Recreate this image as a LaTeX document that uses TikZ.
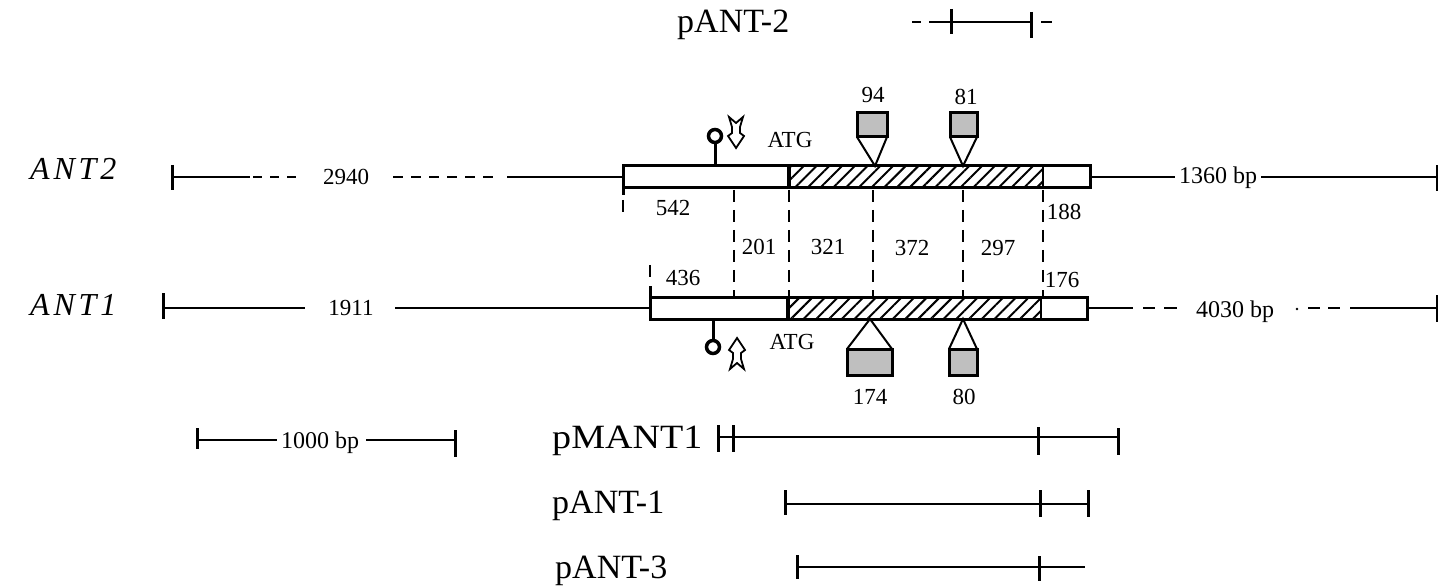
\documentclass[tikz,border=0pt]{standalone}
\usepackage{fontspec}
\setmainfont{Liberation Serif}
\newfontfamily\antfont[LetterSpace=12]{Liberation Serif}
\usetikzlibrary{patterns.meta}
\tikzset{
  gene/.style={line width=2pt},
  endtick/.style={line width=3pt},
  boxline/.style={line width=3pt},
  vdash/.style={line width=2.6pt, dash pattern=on 12pt off 8pt},
  gdash/.style={line width=2pt, dash pattern=on 10pt off 8pt},
  num/.style={font=\fontsize{23}{23}\selectfont, inner sep=0pt},
  bp/.style={font=\fontsize{24}{24}\selectfont, inner sep=0pt, anchor=base},
  clone/.style={font=\fontsize{34}{34}\selectfont, inner sep=0pt, anchor=base west},
  genename/.style={font=\antfont\itshape\fontsize{32}{32}\selectfont, inner sep=0pt, anchor=base west},
  stipple/.style={line width=3pt, fill=gray!50},
  hatch/.style={pattern={Lines[angle=45,distance=9pt,line width=2pt]}},
  lolli/.style={line width=3.5pt, fill=white},
  pics/tss/.style={code={
    \draw[line width=1.8pt, fill=white, line join=miter]
      (-7,0) -- (0,6) -- (7,0) -- (4,10) -- (4,16) -- (8,19) -- (0,31)
      -- (-8,19) -- (-4,16) -- (-4,10) -- cycle;}}
}
\begin{document}
\begin{tikzpicture}[x=1pt,y=-1pt]
\useasboundingbox (0,0) rectangle (1438,588);

% ---------------- pANT-2 -----------------
\node[clone] (pant2) at (677,33) {pANT-2};
\coordinate (p2a) at (912,22);
\coordinate (p2b) at (951,22);
\coordinate (p2c) at (1031,22);
\coordinate (p2d) at (1052,22);
\draw[gene] (p2a) -- ++(9,0);
\draw[gene] (929,22) -- (p2b);
\draw[gene] (p2b) -- (p2c);
\draw[gene] (1041,22) -- (p2d);
\draw[endtick] (951,9) -- (951,34);
\draw[endtick] (1031,12) -- (1031,38);

% ---------------- ANT2 row (y=177) -----------------
\node[genename] (ant2) at (30,180) {ANT2};
\coordinate (a2l) at (172,177);
\coordinate (a2box) at (623,177);
\coordinate (a2boxr) at (1090,177);
\coordinate (a2r) at (1437,177);
\draw[endtick] (172,165) -- (172,190);
\draw[gene] (a2l) -- (250,177);
\draw[gene, dash pattern=on 9pt off 8pt] (253,177) -- (298,177);
\node[num] (n2940) at (346,177) {2940};
\draw[gdash] (393,177) -- (495,177);
\draw[gene] (507,177) -- (a2box);
\fill[hatch] (789,166) rectangle (1043,188);
\draw[boxline] (623,166) rectangle (1090,188);
\draw[line width=4pt] (789,166) -- (789,188);
\draw[line width=2pt] (1043,166) -- (1043,188);
\draw[boxline] (623,188) -- (623,195);
\draw[gene] (a2boxr) -- (1175,177);
\node[bp] (n1360) at (1218,184) {1360 bp};
\draw[gene] (1261,177) -- (a2r);
\draw[endtick] (1437,165) -- (1437,191);

% lollipop + start arrow ANT2
\draw[line width=3pt] (715,166) -- (715,143);
\draw[lolli] (715,136) circle (6.5pt);
\pic at (736,117) {tss};
\node[num, anchor=base] (atg2) at (790,148) {ATG};

% inserts above ANT2
\draw[line width=2pt, fill=white] (857,137) -- (875,166) -- (887,137);
\draw[stipple] (857,113) rectangle (887,137);
\node[num] (i94) at (873,95) {94};
\draw[line width=2pt, fill=white] (950,137) -- (963,166) -- (977,137);
\draw[stipple] (950,113) rectangle (977,137);
\node[num] (i81) at (966,97) {81};

% ---------------- ANT1 row (y=308) -----------------
\node[genename] (ant1) at (30,315) {ANT1};
\coordinate (a1l) at (163,308);
\coordinate (a1box) at (650,308);
\coordinate (a1boxr) at (1087,308);
\coordinate (a1r) at (1437,308);
\draw[endtick] (163,293) -- (163,319);
\draw[gene] (a1l) -- (305,308);
\node[num] (n1911) at (351,308) {1911};
\draw[gene] (395,308) -- (a1box);
\fill[hatch] (788,297) rectangle (1041,319);
\draw[boxline] (650,297) rectangle (1087,319);
\draw[line width=4pt] (788,297) -- (788,319);
\draw[line width=2pt] (1041,297) -- (1041,319);
\draw[boxline] (650,297) -- (650,286);
\draw[gene] (a1boxr) -- (1133,308);
\draw[gene] (1143,308) -- (1155,308);
\draw[gene] (1164,308) -- (1177,308);
\node[bp] (n4030) at (1235,317) {4030 bp};
\fill (1297,309) circle (1.3pt);
\draw[gene] (1308,308) -- (1320,308);
\draw[gene] (1328,308) -- (1340,308);
\draw[gene] (1350,308) -- (a1r);
\draw[endtick] (1437,295) -- (1437,322);

% lollipop + start arrow ANT1
\draw[line width=3pt] (713,319) -- (713,340);
\draw[lolli] (713,347) circle (6.5pt);
\pic[yscale=-1] at (737,369) {tss};
\node[num, anchor=base] (atg1) at (792,349) {ATG};

% inserts below ANT1
\draw[line width=2pt, fill=white] (847,349) -- (870,319) -- (892,349);
\draw[stipple] (847,349) rectangle (892,375);
\node[num] (i174) at (870,397) {174};
\draw[line width=2pt, fill=white] (949,349) -- (963,319) -- (977,349);
\draw[stipple] (949,349) rectangle (977,375);
\node[num] (i80) at (964,397) {80};

% ---------------- junction dashed lines -----------------
\draw[vdash] (623,200) -- (623,214);
\draw[vdash] (650,265) -- (650,280);
\draw[vdash] (734,190) -- (734,296);
\draw[vdash] (789,190) -- (789,296);
\draw[vdash] (873,190) -- (873,296);
\draw[vdash] (963,190) -- (963,296);
\draw[vdash] (1043,190) -- (1043,296);
\node[num] (s542) at (673,208) {542};
\node[num] (s201) at (759,247) {201};
\node[num] (s321) at (828,247) {321};
\node[num] (s372) at (912,248) {372};
\node[num] (s297) at (998,248) {297};
\node[num] (s436) at (683,278) {436};
\node[num] (s188) at (1064,212) {188};
\node[num] (s176) at (1062,280) {176};

% ---------------- scale bar -----------------
\coordinate (sbl) at (197,440);
\coordinate (sbr) at (455,440);
\draw[endtick] (197,428) -- (197,449);
\draw[gene] (sbl) -- (277,440);
\node[bp] (n1000) at (320,448) {1000 bp};
\draw[gene] (366,440) -- (sbr);
\draw[endtick] (455,430) -- (455,457);

% ---------------- clones -----------------
\node[clone, xscale=1.12] (pmant1) at (552,448) {pMANT1};
\coordinate (m1) at (718,437);
\coordinate (m2) at (1118,437);
\draw[gene] (m1) -- (m2);
\draw[endtick] (718,425) -- (718,452);
\draw[endtick] (733,425) -- (733,452);
\draw[endtick] (1038,427) -- (1038,455);
\draw[endtick] (1118,428) -- (1118,455);

\node[clone] (pant1) at (552,513) {pANT-1};
\coordinate (q1) at (785,504);
\coordinate (q2) at (1088,504);
\draw[gene] (q1) -- (q2);
\draw[endtick] (785,490) -- (785,515);
\draw[endtick] (1040,490) -- (1040,517);
\draw[endtick] (1088,490) -- (1088,517);

\node[clone] (pant3) at (555,578) {pANT-3};
\coordinate (r1) at (797,567);
\coordinate (r2) at (1085,567);
\draw[gene] (r1) -- (r2);
\draw[endtick] (797,555) -- (797,579);
\draw[endtick] (1039,556) -- (1039,581);
\end{tikzpicture}
\end{document}
